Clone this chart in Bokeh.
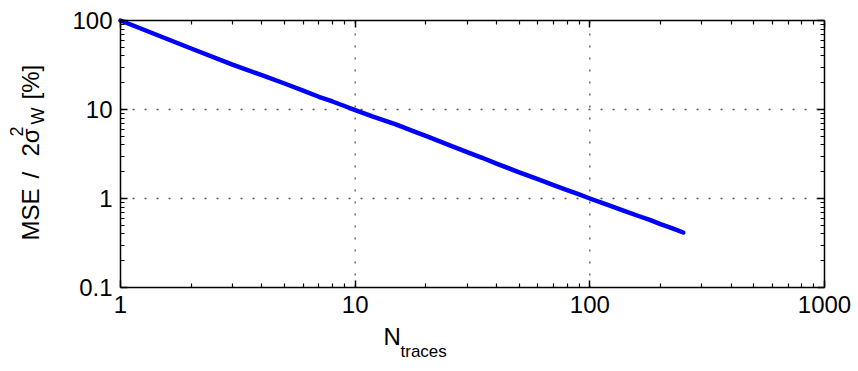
import math

from bokeh.embed import file_html
from bokeh.models import ColumnDataSource, FixedTicker, Label, LogAxis
from bokeh.plotting import figure
from bokeh.resources import INLINE

# Mean squared error relative to 2*sigma_W^2, versus number of averaged traces
n_traces = [1, 2, 3, 4, 5, 6, 7, 8, 9, 10, 12, 15, 18, 20, 25, 30, 35, 40,
            50, 60, 70, 80, 90, 100, 120, 140, 160, 180, 200, 225, 250]
mse_pct = [100, 48.5, 32.0, 24.3, 19.6, 16.3, 13.9, 12.3, 10.95, 9.85, 8.25,
           6.75, 5.6, 5.05, 4.0, 3.32, 2.85, 2.47, 1.97, 1.65, 1.41, 1.24,
           1.11, 1.0, 0.84, 0.725, 0.64, 0.575, 0.515, 0.462, 0.415]

x_major = [1, 10, 100, 1000]
x_major_labels = ["1", "10", "100", "1000"]
y_major = [0.1, 1, 10, 100]
y_major_labels = ["0.1", "1", "10", "100"]

FONT = "Liberation Sans"

# canvas size and the axes box inside it (pixels, from top-left)
W, H = 858, 371
BOX_L, BOX_R, BOX_T, BOX_B = 120, 824, 20, 287

# The plotting frame fills the whole canvas so that the axis titles can be
# placed freely; the ranges are widened so the box edges land on the limits.
x_px_per_dec = (BOX_R - BOX_L) / math.log10(x_major[-1] / x_major[0])
y_px_per_dec = (BOX_B - BOX_T) / math.log10(y_major[-1] / y_major[0])
x_range = (x_major[0] * 10 ** (-BOX_L / x_px_per_dec),
           x_major[-1] * 10 ** ((W - BOX_R) / x_px_per_dec))
y_range = (y_major[0] * 10 ** (-(H - BOX_B) / y_px_per_dec),
           y_major[-1] * 10 ** (BOX_T / y_px_per_dec))


def minor_ticks(majors):
    return [m * k for m in majors[:-1] for k in range(2, 10)]


p = figure(width=W, height=H,
           x_axis_type="log", y_axis_type="log",
           x_range=x_range, y_range=y_range,
           output_backend="svg", toolbar_location=None,
           min_border=0)
p.outline_line_color = None
p.background_fill_color = "white"
p.border_fill_color = "white"
p.xgrid.visible = False
p.ygrid.visible = False

# dotted grid at the major decades, inside the box only
grid_x = x_major[1:-1]
grid_y = y_major[1:-1]
grid_style = dict(line_color="#555555", line_width=1.3, line_dash="2 10")
p.segment(x0=grid_x, x1=grid_x, y0=[y_major[0]] * len(grid_x),
          y1=[y_major[-1]] * len(grid_x), **grid_style)
p.segment(x0=[x_major[0]] * len(grid_y), x1=[x_major[-1]] * len(grid_y),
          y0=grid_y, y1=grid_y, **grid_style)

src = ColumnDataSource(data=dict(n=n_traces, mse=mse_pct))
p.line("n", "mse", source=src, line_color="#0000ff", line_width=4.5,
       line_cap="round", line_join="round")

bottom_axis = p.below[0]
left_axis = p.left[0]
top_axis = LogAxis(major_label_overrides={t: "" for t in x_major})
right_axis = LogAxis(major_label_overrides={t: "" for t in y_major})
p.add_layout(top_axis, "above")
p.add_layout(right_axis, "right")

# boxed axes pinned to the data limits, ticks pointing inwards
bottom_axis.fixed_location = y_major[0]
top_axis.fixed_location = y_major[-1]
left_axis.fixed_location = x_major[0]
right_axis.fixed_location = x_major[-1]

for ax in [bottom_axis, top_axis]:
    ax.ticker = FixedTicker(ticks=x_major, minor_ticks=minor_ticks(x_major))
    ax.bounds = (x_major[0], x_major[-1])
for ax in [left_axis, right_axis]:
    ax.ticker = FixedTicker(ticks=y_major, minor_ticks=minor_ticks(y_major))
    ax.bounds = (y_major[0], y_major[-1])

for ax in [bottom_axis, left_axis, top_axis, right_axis]:
    ax.axis_line_color = "black"
    ax.axis_line_width = 1.5
    ax.major_tick_line_color = "black"
    ax.minor_tick_line_color = "black"
    ax.major_tick_line_width = 1.5
    ax.minor_tick_line_width = 1.2
    ax.major_tick_in = 7
    ax.major_tick_out = 0
    ax.minor_tick_in = 4
    ax.minor_tick_out = 0
    ax.major_label_text_font = FONT
    ax.major_label_text_font_size = "24px"
    ax.major_label_text_color = "black"
    ax.major_label_standoff = 8

bottom_axis.major_label_overrides = dict(zip(x_major, x_major_labels))
left_axis.major_label_overrides = dict(zip(y_major, y_major_labels))
for ax in [top_axis, right_axis]:
    ax.major_label_standoff = 0


def add_text(txt, x, y, size, angle=0.0):
    # x, y: canvas pixels from the top-left corner, at the text's baseline
    p.add_layout(Label(x=x, y=H - y, x_units="screen", y_units="screen",
                       text=txt, angle=angle, text_font=FONT,
                       text_font_size=f"{size}px", text_color="black",
                       text_align="left", text_baseline="alphabetic"))


# x-axis title: N with subscript "traces"
add_text("N", 383, 336, 24)
add_text("traces", 400, 351, 17)

# y-axis title, reading upwards: MSE / 2σ with stacked ^2 and _W, then [%]
up = math.pi / 2
add_text("MSE", 30, 240, 24, up)
add_text("/", 30, 178, 24, up)
add_text("2σ", 30, 156, 24, up)
add_text("2", 16, 136, 18, up)
add_text("W", 37, 124, 18, up)
add_text("[%]", 30, 99, 24, up)

open("out.html", "w").write(file_html(p, INLINE))
